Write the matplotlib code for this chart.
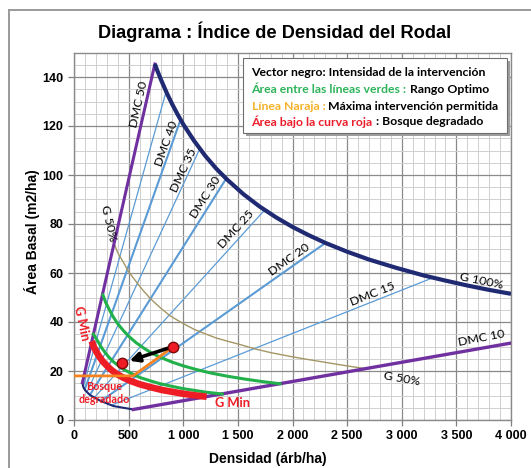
import matplotlib
matplotlib.use('Agg')
import matplotlib.pyplot as plt
from matplotlib.ticker import MultipleLocator, FuncFormatter
from matplotlib.lines import Line2D
from matplotlib.patches import Rectangle

# ---------------- data ----------------
dmc_values = [45, 40, 35, 30, 25, 20, 15]
dmc_thick = [False, True, False, True, False, True, False]
dmc_start_n = [85, 98, 119, 146, 187, 247, 341]
dmc_start_g = [13.5, 12.4, 11.45, 10.3, 9.2, 7.75, 6.0]
dmc_end_n = [841, 973, 1148, 1387, 1741, 2296, 3276]
dmc_end_g = [133.7, 122.3, 110.4, 98.1, 85.5, 72.1, 57.9]

dmc50_n = [77, 740]
dmc50_g = [15.2, 145.3]
dmc10_n = [543, 4000]
dmc10_g = [4.3, 31.4]

g100_n = [740, 760, 780, 800, 850, 900, 950, 1000, 1100, 1200, 1300, 1400, 1550, 1700,
          1850, 2000, 2150, 2300, 2500, 2700, 2950, 3200, 3400, 3600, 3800, 4000]
g100_g = [145.3, 142.9, 140.7, 138.5, 133.4, 128.8, 124.6, 120.7, 113.9, 107.9, 102.7,
          98.2, 92.2, 87.1, 82.7, 78.8, 75.4, 72.3, 68.7, 65.5, 62.1, 59.0, 56.9, 54.9,
          53.1, 51.5]

g50_n = [360, 400, 450, 500, 560, 630, 700, 790, 880, 990, 1100, 1200, 1300, 1410, 1520,
         1650, 1800, 1950, 2100, 2250, 2400, 2540, 2680]
g50_g = [72.8, 68.3, 64.5, 60.5, 57.0, 53.0, 49.5, 45.8, 42.5, 39.6, 37.0, 35.2, 33.5,
         32.1, 30.8, 29.1, 27.5, 26.2, 25.0, 23.9, 22.8, 21.8, 20.9]

base_n = [77, 85, 101, 146, 238, 360, 543]
base_g = [15.2, 13.5, 12.2, 10.2, 7.9, 5.7, 4.3]

green_up_n = [265, 290, 320, 360, 400, 450, 500, 570, 650, 720, 800, 900, 1000, 1120,
              1250, 1400, 1550, 1720, 1885]
green_up_g = [51.0, 48.0, 45.3, 42.0, 39.3, 36.6, 34.2, 31.5, 29.0, 27.1, 25.4, 23.6,
              22.1, 20.6, 19.2, 17.9, 16.8, 15.7, 14.8]
green_lo_n = [178, 200, 220, 250, 280, 320, 360, 410, 460, 530, 600, 690, 780, 890, 1000,
              1100, 1200, 1280, 1357]
green_lo_g = [35.0, 33.4, 32.0, 29.7, 27.8, 25.6, 23.8, 22.0, 20.5, 18.9, 17.4, 16.1,
              14.9, 13.8, 12.8, 12.1, 11.4, 11.0, 10.6]
red_n = [162, 180, 200, 230, 260, 300, 340, 390, 450, 520, 600, 700, 800, 900, 1000,
         1100, 1214]
red_g = [32.2, 30.0, 28.2, 26.0, 24.1, 22.2, 20.5, 18.8, 17.3, 15.9, 14.6, 13.4, 12.3,
         11.5, 10.7, 10.1, 9.5]
orange_n = [0, 540, 875]
orange_g = [18.0, 18.0, 28.8]
vector_n = [909, 436]
vector_g = [30.0, 23.1]

x_ticks = [0, 500, 1000, 1500, 2000, 2500, 3000, 3500, 4000]
y_ticks = [0, 20, 40, 60, 80, 100, 120, 140]

# ---------------- style ----------------
NAVY = '#1f2a72'
PURPLE = '#7030a0'
BLUE = '#5b9bd5'
OLIVE = '#a39664'
GREEN = '#22b04b'
RED = '#ee1c25'
ORANGE = '#f5821f'
AR = 'Liberation Sans'
CAL = 'Lato'

W, H = 531, 468
fig = plt.figure(figsize=(W / 100, H / 100), dpi=100)
fig.patch.set_facecolor('white')
ax = fig.add_axes([74 / W, 1 - 420 / H, (511 - 74) / W, (420 - 52.5) / H])

fig.canvas.draw()
rend = fig.canvas.get_renderer()


def fit_size(s, target, family, weight='normal', base=10.0):
    t = fig.text(0, 0, s, family=family, fontweight=weight, fontsize=base, alpha=0)
    w = t.get_window_extent(rend).width
    t.remove()
    return base * target / w


ax.set_xlim(0, 4000)
ax.set_ylim(0, 150)
ax.set_xticks(x_ticks)
ax.xaxis.set_minor_locator(MultipleLocator(100))
ax.set_yticks(y_ticks)
ax.yaxis.set_minor_locator(MultipleLocator(5))
ax.xaxis.set_major_formatter(FuncFormatter(lambda v, p: f"{int(v):,}".replace(",", " ")))
ax.grid(which='major', color='#8a8a8a', lw=0.9, zorder=0)
ax.grid(which='minor', color='#cfcfcf', lw=0.7, zorder=0)
ax.set_axisbelow(True)
ax.tick_params(which='minor', length=0)
ax.tick_params(which='major', direction='out', length=4, width=0.9, color='#808080',
               pad=3.5, labelsize=9)
for lab in ax.get_xticklabels() + ax.get_yticklabels():
    lab.set_fontfamily(AR)
    lab.set_fontweight('bold')
for s in ax.spines.values():
    s.set_color('#8a8a8a')
    s.set_linewidth(1.0)

# DMC blue lines
for v, thick, n0, g0, n1, g1 in zip(dmc_values, dmc_thick, dmc_start_n, dmc_start_g,
                                     dmc_end_n, dmc_end_g):
    ax.plot([n0, n1], [g0, g1], color=BLUE, lw=1.5 if thick else 0.9, zorder=2,
            solid_capstyle='butt')

ax.plot(g50_n, g50_g, color=OLIVE, lw=1.0, zorder=3)
ax.plot(base_n, base_g, color=NAVY, lw=1.5, zorder=4)
ax.plot(dmc50_n, dmc50_g, color=PURPLE, lw=2.2, zorder=4)
ax.plot(dmc10_n, dmc10_g, color=PURPLE, lw=2.4, zorder=4)
ax.plot(g100_n, g100_g, color=NAVY, lw=3.0, zorder=5, solid_capstyle='butt')
ax.plot(green_up_n, green_up_g, color=GREEN, lw=2.2, zorder=5)
ax.plot(green_lo_n, green_lo_g, color=GREEN, lw=2.2, zorder=5)
ax.plot(red_n, red_g, color=RED, lw=4.8, zorder=6, solid_capstyle='butt')
ax.plot(orange_n, orange_g, color=ORANGE, lw=2.0, zorder=6)

ax.annotate('', xy=(vector_n[1], vector_g[1]), xytext=(vector_n[0], vector_g[0]),
            arrowprops=dict(arrowstyle='-|>', color='black', lw=2.6, mutation_scale=14,
                            shrinkA=4, shrinkB=6), zorder=7)
ax.plot(vector_n, vector_g, 'o', ms=7.5, color=RED, mec='#7a0a0a', mew=1.0, zorder=8)

# curve labels
fs_dmc = fit_size('DMC 20', 47, CAL)
lab_kw = dict(family=CAL, fontsize=fs_dmc, color='black', ha='center', va='center',
              rotation_mode='anchor', zorder=9)
dmc_labels = ['DMC 50', 'DMC 40', 'DMC 35', 'DMC 30', 'DMC 25', 'DMC 20', 'DMC 15', 'DMC 10']
dmc_lab_n = [595, 848, 1000, 1205, 1489, 1968, 2733, 3730]
dmc_lab_g = [129, 113, 102, 91, 77.8, 65.6, 51.4, 33.3]
dmc_lab_rot = [77.2, 70.5, 65.1, 57.8, 47.8, 35.2, 21.6, 11.0]
for t, n, g, r in zip(dmc_labels, dmc_lab_n, dmc_lab_g, dmc_lab_rot):
    ax.text(n, g, t, rotation=r, **lab_kw)
ax.text(3730, 56.9, 'G 100%', rotation=-11.5, **lab_kw)
ax.text(2999, 17.0, 'G 50%', rotation=-10, **lab_kw)
ax.text(314, 80.2, 'G 50%', rotation=-77, **lab_kw)

fs_gmin = fit_size('G Min', 35, CAL, 'bold')
fs_bosq = fit_size('degradado', 51, CAL, 'bold')
red_kw = dict(family=CAL, color=RED, ha='center', va='center', fontweight='bold', zorder=9)
ax.text(70, 39.5, 'G Min', rotation=-78, rotation_mode='anchor', fontsize=fs_gmin, **red_kw)
ax.text(1452, 6.8, 'G Min', fontsize=fs_gmin, **red_kw)
ax.text(275, 13.6, 'Bosque', fontsize=fs_bosq, **red_kw)
ax.text(275, 8.2, 'degradado', fontsize=fs_bosq, **red_kw)

# titles
fig.text(275 / W, 1 - 32 / H, 'Diagrama : Índice de Densidad del Rodal', family=AR,
         fontweight='bold', fontsize=fit_size('Diagrama : Índice de Densidad del Rodal', 354, AR, 'bold'),
         ha='center', va='center')
fig.text(268 / W, 1 - 459 / H, 'Densidad (árb/ha)', family=AR, fontweight='bold',
         fontsize=10, ha='center', va='center')
fig.text(31.5 / W, 1 - 232 / H, 'Área Basal (m2/ha)', family=AR, fontweight='bold',
         fontsize=10, ha='center', va='center', rotation=90)

# outer frame
fig.add_artist(Line2D([9 / W, 9 / W], [0, 1 - 10 / H], transform=fig.transFigure,
                      color='#9a9a9a', lw=1.4))
fig.add_artist(Line2D([9 / W, 1], [1 - 10 / H, 1 - 10 / H], transform=fig.transFigure,
                      color='#9a9a9a', lw=1.4))

# legend box
bx0, by0, bx1, by1 = 243, 58, 507, 133
fig.add_artist(Rectangle(((bx0 + 3) / W, 1 - (by1 + 3) / H), (bx1 - bx0) / W, (by1 - by0) / H,
                         transform=fig.transFigure, facecolor='#9e9e9e', edgecolor='none',
                         zorder=10))
fig.add_artist(Rectangle((bx0 / W, 1 - by1 / H), (bx1 - bx0) / W, (by1 - by0) / H,
                         transform=fig.transFigure, facecolor='white', edgecolor='#6e6e6e',
                         lw=0.8, zorder=11))

GT = '#2eb35a'
OT = '#f7b22c'
RT = '#ec1c2a'
leg_lines = [
    [("Vector negro: Intensidad de la intervención", 'black')],
    [("Área entre las líneas verdes : ", GT), ("Rango Optimo", 'black')],
    [("Línea Naraja : ", OT), ("Máxima intervención permitida", 'black')],
    [("Área bajo la curva roja", RT), (" : Bosque degradado", 'black')],
]
leg_y = [72.7, 89.3, 106.0, 121.7]
leg_x = 251.5
fs_leg = fit_size("Línea Naraja : Máxima intervención permitida", 249, CAL, 'bold')
for segs, yy in zip(leg_lines, leg_y):
    fy = 1 - yy / H
    if len(segs) == 1:
        fig.text(leg_x / W, fy, segs[0][0], color=segs[0][1], family=CAL, fontweight='bold',
                 fontsize=fs_leg, ha='left', va='center', zorder=12)
    else:
        full = fig.text(leg_x / W, fy, segs[0][0] + segs[1][0], family=CAL, fontweight='bold',
                        fontsize=fs_leg, ha='left', va='center', alpha=0)
        wfull = full.get_window_extent(rend).width
        full.remove()
        fig.text(leg_x / W, fy, segs[0][0], color=segs[0][1], family=CAL, fontweight='bold',
                 fontsize=fs_leg, ha='left', va='center', zorder=12)
        fig.text((leg_x + wfull) / W, fy, segs[1][0], color=segs[1][1], family=CAL,
                 fontweight='bold', fontsize=fs_leg, ha='right', va='center', zorder=12)

fig.savefig('out.png', dpi=100)
